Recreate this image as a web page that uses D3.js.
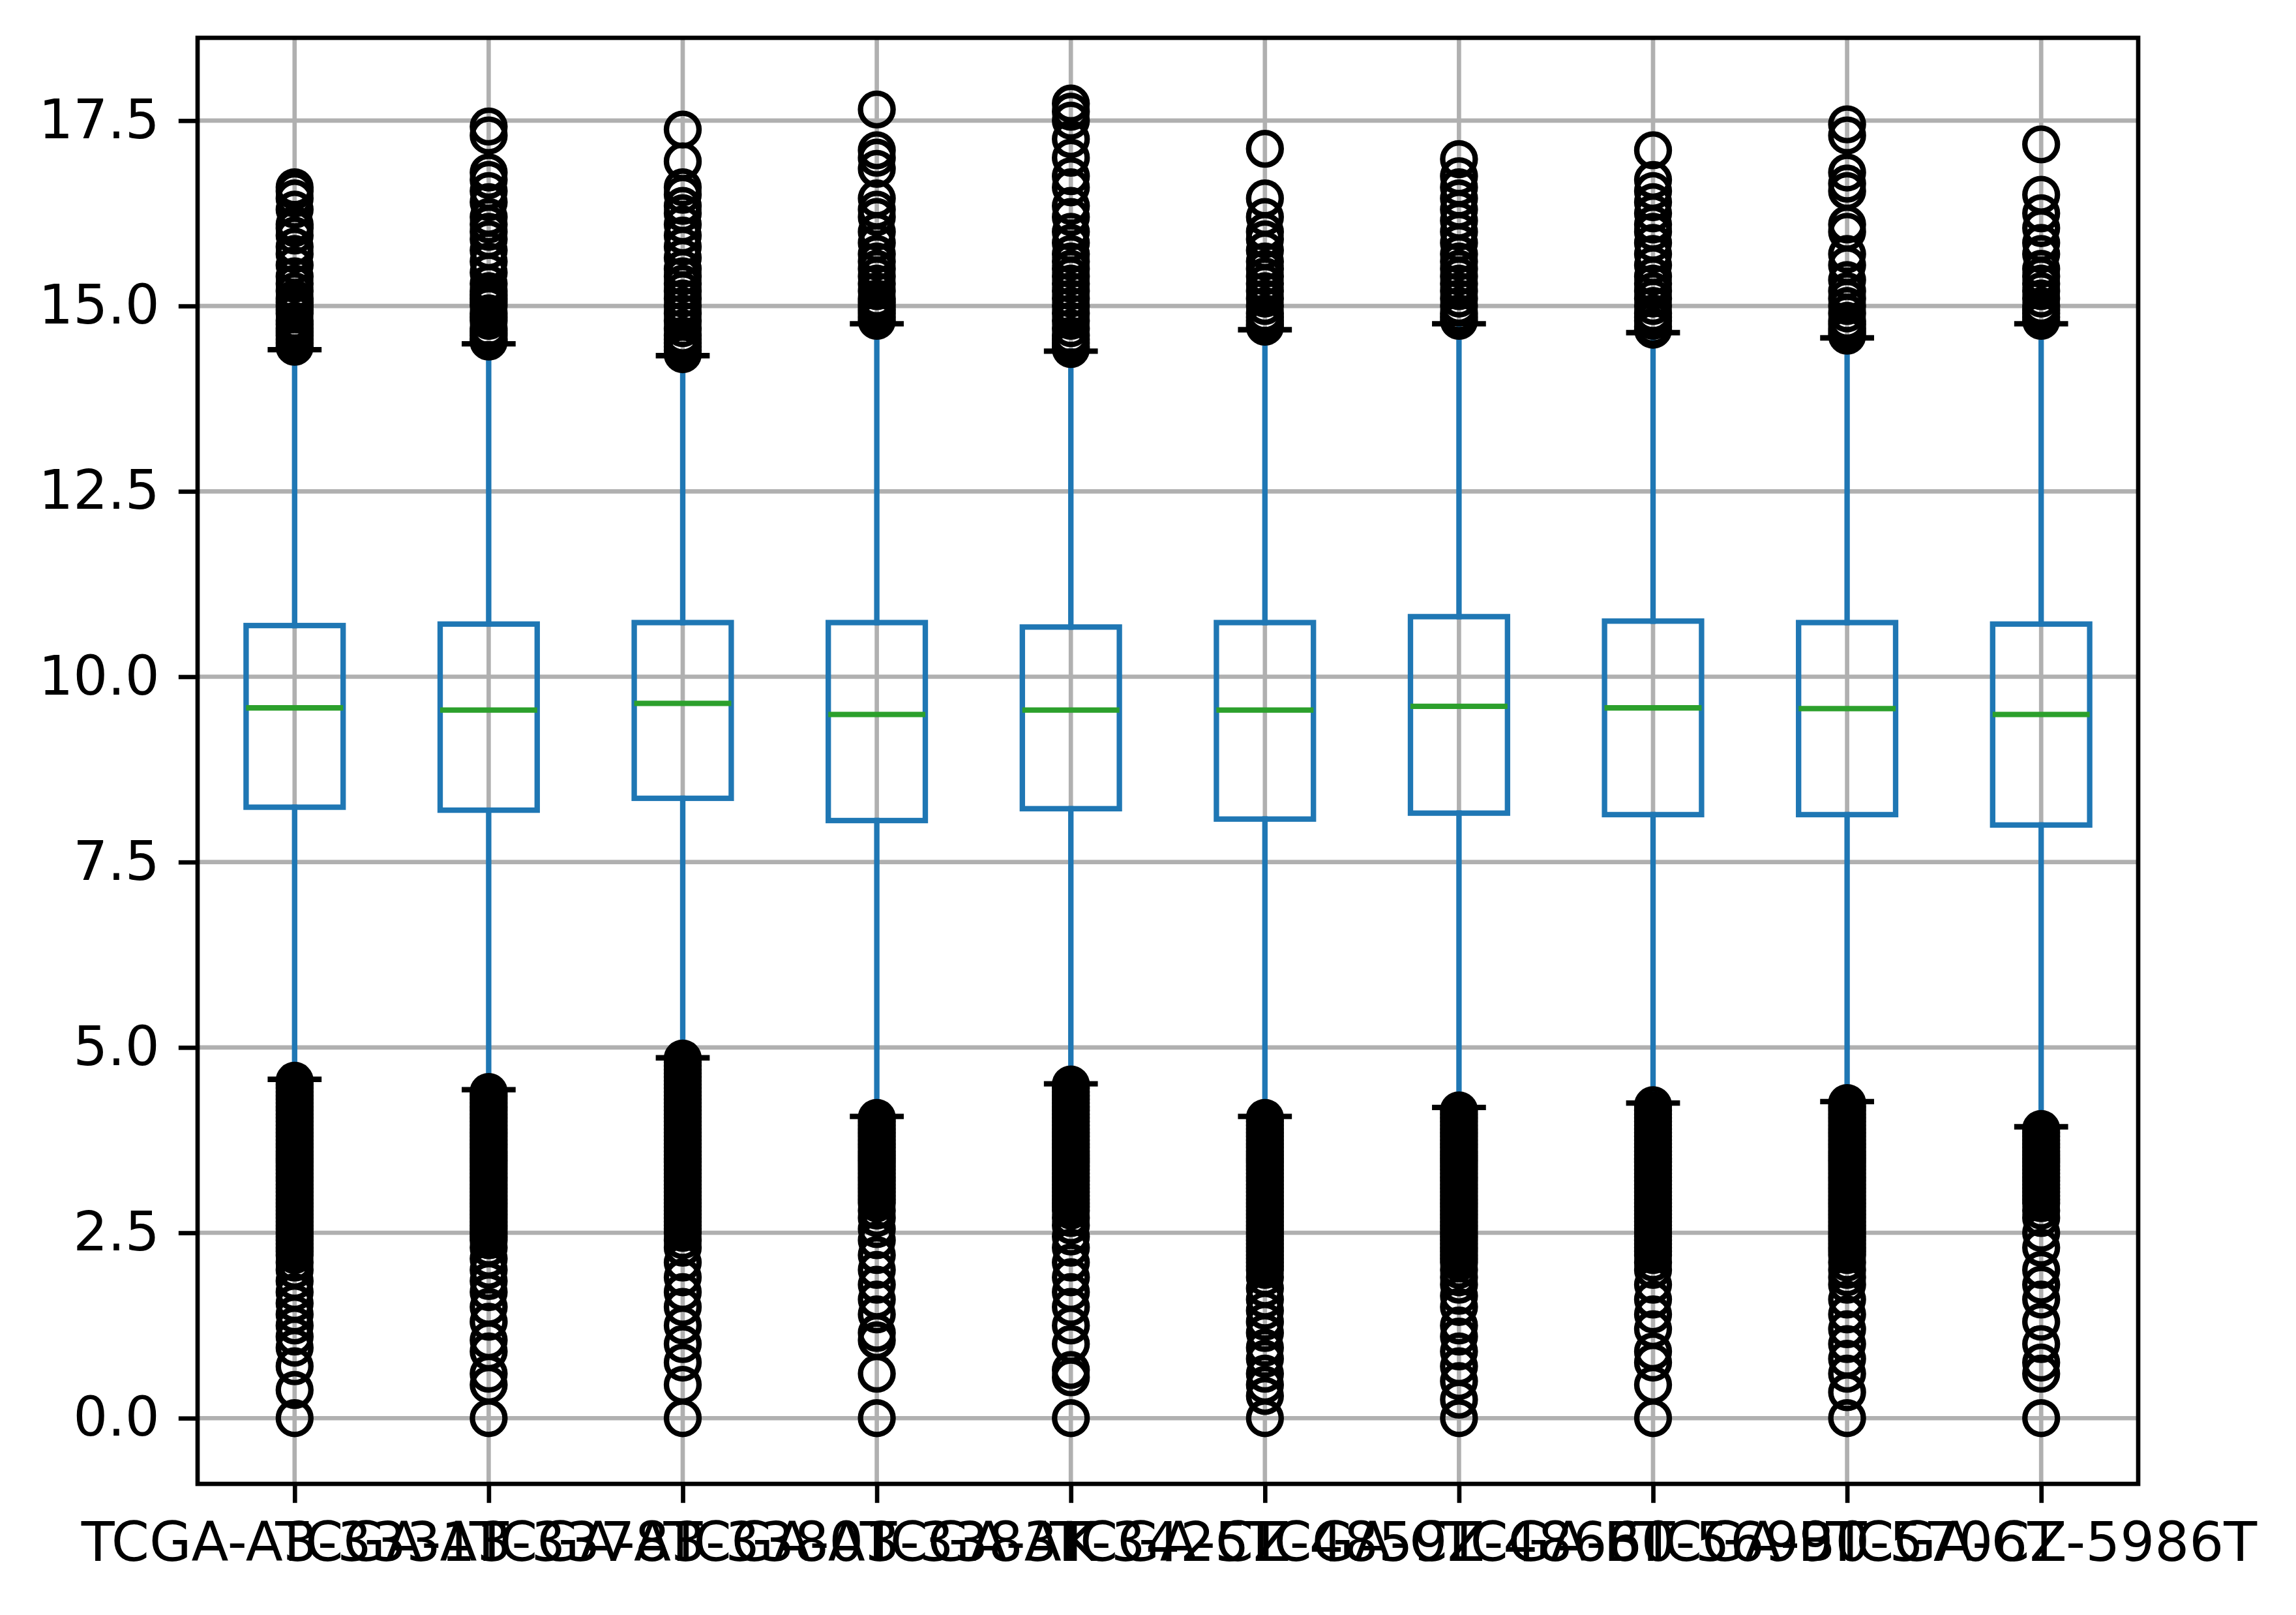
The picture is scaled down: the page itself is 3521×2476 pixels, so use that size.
<!DOCTYPE html>
<html>
<head>
<meta charset="utf-8">
<script src="https://cdn.jsdelivr.net/npm/d3@7"></script>
<style>
  html, body { margin: 0; padding: 0; background: #ffffff; }
  svg { display: block; }
</style>
</head>
<body>
<script>
// ---------- DATA ----------
const samples = ["TCGA-A3-3331T", "TCGA-A3-3378T", "TCGA-A3-3380T", "TCGA-A3-3383T", "TCGA-AK-3425T",
                 "TCGA-CZ-4859T", "TCGA-CZ-4866T", "TCGA-B0-5699T", "TCGA-B0-5706T", "TCGA-CZ-5986T"];
const q1 =          [8.24, 8.20, 8.36, 8.06, 8.22, 8.08, 8.16, 8.14, 8.14, 8.00];
const medians =     [9.58, 9.55, 9.64, 9.49, 9.55, 9.55, 9.60, 9.58, 9.57, 9.49];
const q3 =          [10.69, 10.71, 10.73, 10.73, 10.67, 10.73, 10.81, 10.75, 10.73, 10.71];
const whiskerLow =  [4.57, 4.43, 4.86, 4.07, 4.51, 4.07, 4.19, 4.25, 4.27, 3.93];
const whiskerHigh = [14.41, 14.49, 14.33, 14.76, 14.39, 14.68, 14.76, 14.64, 14.57, 14.76];

const fliersHigh = [
  [14.45,14.5,14.55,14.6,14.65,14.7,14.75,14.8,14.9,14.95,15.0,15.05,15.1,15.2,15.3,15.4,15.55,15.7,15.8,15.95,16.05,16.1,16.3,16.45,16.55,16.6],
  [14.52,14.55,14.6,14.65,14.7,14.8,14.85,14.9,15.0,15.05,15.1,15.15,15.2,15.3,15.45,15.6,15.75,15.9,16.0,16.1,16.2,16.4,16.55,16.7,16.8,17.3,17.42],
  [14.35,14.4,14.45,14.5,14.55,14.6,14.7,14.8,14.9,15.0,15.1,15.2,15.3,15.4,15.5,15.65,15.8,15.95,16.1,16.25,16.35,16.5,16.6,16.95,17.38],
  [14.8,14.85,14.9,14.95,15.0,15.05,15.1,15.2,15.3,15.4,15.5,15.6,15.7,15.85,16.0,16.2,16.3,16.45,16.85,17.0,17.1,17.65],
  [14.42,14.45,14.5,14.55,14.6,14.7,14.8,14.9,15.0,15.1,15.2,15.3,15.4,15.5,15.6,15.7,15.85,16.0,16.2,16.35,16.6,16.75,17.0,17.25,17.5,17.62,17.73],
  [14.72,14.75,14.8,14.85,14.9,15.0,15.1,15.2,15.3,15.4,15.5,15.6,15.75,15.9,16.0,16.2,16.45,17.12],
  [14.8,14.85,14.9,15.0,15.1,15.2,15.3,15.4,15.5,15.6,15.7,15.85,16.0,16.15,16.3,16.45,16.6,16.75,16.98],
  [14.68,14.72,14.8,14.85,14.9,15.0,15.1,15.2,15.3,15.4,15.55,15.7,15.85,16.0,16.1,16.25,16.4,16.55,16.7,17.1],
  [14.6,14.65,14.7,14.75,14.8,14.9,15.0,15.1,15.2,15.35,15.55,15.7,16.0,16.1,16.55,16.65,16.8,17.3,17.45],
  [14.8,14.85,14.9,14.95,15.0,15.1,15.2,15.3,15.4,15.5,15.7,15.85,16.05,16.25,16.5,17.18]
];
const fliersLow = [
  [4.55,4.5,4.45,4.4,4.35,4.3,4.25,4.2,4.15,4.1,4.05,4.0,3.95,3.9,3.85,3.8,3.75,3.7,3.65,3.6,3.55,3.5,3.45,3.4,3.35,3.3,3.25,3.2,3.15,3.1,3.05,3.0,2.95,2.9,2.85,2.8,2.75,2.7,2.65,2.6,2.55,2.5,2.45,2.4,2.35,2.3,2.25,2.2,2.1,2.0,1.85,1.7,1.55,1.4,1.25,1.1,0.95,0.7,0.38,0],
  [4.4,4.35,4.3,4.25,4.2,4.15,4.1,4.05,4.0,3.95,3.9,3.85,3.8,3.75,3.7,3.65,3.6,3.55,3.5,3.45,3.4,3.35,3.3,3.25,3.2,3.15,3.1,3.05,3.0,2.95,2.9,2.85,2.8,2.75,2.7,2.65,2.6,2.55,2.5,2.45,2.4,2.3,2.15,2.0,1.85,1.7,1.5,1.3,1.05,0.9,0.6,0.45,0],
  [4.85,4.8,4.75,4.7,4.65,4.6,4.55,4.5,4.45,4.4,4.35,4.3,4.25,4.2,4.15,4.1,4.05,4.0,3.95,3.9,3.85,3.8,3.75,3.7,3.65,3.6,3.55,3.5,3.45,3.4,3.35,3.3,3.25,3.2,3.15,3.1,3.05,3.0,2.95,2.9,2.85,2.8,2.75,2.7,2.65,2.6,2.55,2.5,2.4,2.3,2.1,1.9,1.7,1.5,1.25,1.0,0.75,0.45,0],
  [4.05,4.0,3.95,3.9,3.85,3.8,3.75,3.7,3.65,3.6,3.55,3.5,3.45,3.4,3.35,3.3,3.25,3.2,3.15,3.1,3.05,3.0,2.95,2.9,2.8,2.7,2.55,2.4,2.2,2.0,1.8,1.6,1.4,1.15,1.05,0.6,0],
  [4.5,4.45,4.4,4.35,4.3,4.25,4.2,4.15,4.1,4.05,4.0,3.95,3.9,3.85,3.8,3.75,3.7,3.65,3.6,3.55,3.5,3.45,3.4,3.35,3.3,3.25,3.2,3.15,3.1,3.05,3.0,2.95,2.9,2.85,2.8,2.7,2.6,2.45,2.3,2.1,1.9,1.7,1.5,1.25,1.0,0.65,0.55,0],
  [4.05,4.0,3.95,3.9,3.85,3.8,3.75,3.7,3.65,3.6,3.55,3.5,3.45,3.4,3.35,3.3,3.25,3.2,3.15,3.1,3.05,3.0,2.95,2.9,2.85,2.8,2.75,2.7,2.65,2.6,2.55,2.5,2.45,2.4,2.35,2.3,2.25,2.2,2.15,2.1,2.05,2.0,1.9,1.75,1.6,1.45,1.3,1.15,0.95,0.8,0.6,0.45,0.3,0],
  [4.15,4.1,4.05,4.0,3.95,3.9,3.85,3.8,3.75,3.7,3.65,3.6,3.55,3.5,3.45,3.4,3.35,3.3,3.25,3.2,3.15,3.1,3.05,3.0,2.95,2.9,2.85,2.8,2.75,2.7,2.65,2.6,2.55,2.5,2.45,2.4,2.35,2.3,2.25,2.2,2.15,2.1,2.0,1.9,1.8,1.65,1.5,1.25,1.1,0.9,0.7,0.5,0.25,0],
  [4.22,4.15,4.1,4.05,4.0,3.95,3.9,3.85,3.8,3.75,3.7,3.65,3.6,3.55,3.5,3.45,3.4,3.35,3.3,3.25,3.2,3.15,3.1,3.05,3.0,2.95,2.9,2.85,2.8,2.75,2.7,2.65,2.6,2.55,2.5,2.45,2.4,2.35,2.3,2.25,2.2,2.1,2.0,1.8,1.6,1.4,1.2,0.9,0.75,0.45,0],
  [4.25,4.2,4.15,4.1,4.05,4.0,3.95,3.9,3.85,3.8,3.75,3.7,3.65,3.6,3.55,3.5,3.45,3.4,3.35,3.3,3.25,3.2,3.15,3.1,3.05,3.0,2.95,2.9,2.85,2.8,2.75,2.7,2.65,2.6,2.55,2.5,2.45,2.4,2.35,2.3,2.25,2.2,2.1,2.0,1.9,1.8,1.6,1.4,1.2,1.0,0.8,0.6,0.35,0],
  [3.9,3.85,3.8,3.75,3.7,3.65,3.6,3.55,3.5,3.45,3.4,3.35,3.3,3.25,3.2,3.15,3.1,3.05,3.0,2.95,2.9,2.8,2.7,2.5,2.3,2.0,1.8,1.6,1.3,1.0,0.75,0.6,0]
];

const yTickValues = [0, 2.5, 5, 7.5, 10, 12.5, 15, 17.5];
const yTickLabels = ["0.0", "2.5", "5.0", "7.5", "10.0", "12.5", "15.0", "17.5"];

// ---------- LAYOUT / STYLE ----------
const W = 3521, H = 2476;
const margin = { left: 303, right: 3279, top: 58, bottom: 2275 };
const PT = 600 / 72;                // px per point (600 dpi)
const fontSize = 10 * PT;           // 83.3 px
const boxColor = "#1f77b4", medColor = "#2ca02c", gridColor = "#b0b0b0";

const svg = d3.select("body").append("svg")
  .attr("width", W).attr("height", H)
  .attr("xmlns", "http://www.w3.org/2000/svg");
svg.append("rect").attr("width", W).attr("height", H).attr("fill", "#ffffff");

// y domain with matplotlib-style 5% margins
const allVals = [].concat(...fliersHigh, ...fliersLow, whiskerHigh, whiskerLow);
const dMin = d3.min(allVals), dMax = d3.max(allVals);
const pad = (dMax - dMin) * 0.05;
const y = d3.scaleLinear().domain([dMin - pad, dMax + pad]).range([margin.bottom, margin.top]);
const x = d3.scalePoint().domain(samples).range([margin.left, margin.right]).padding(0.5);
const step = x.step();
const boxHalf = step * 0.25;
const capHalf = step * 0.125;

// ---------- GRID ----------
const grid = svg.append("g");
grid.selectAll("line.gx").data(samples).join("line")
  .attr("x1", d => x(d)).attr("x2", d => x(d))
  .attr("y1", margin.top).attr("y2", margin.bottom)
  .attr("stroke", gridColor).attr("stroke-width", 0.8 * PT);
grid.selectAll("line.gy").data(yTickValues).join("line")
  .attr("x1", margin.left).attr("x2", margin.right)
  .attr("y1", d => y(d)).attr("y2", d => y(d))
  .attr("stroke", gridColor).attr("stroke-width", 0.8 * PT);

// ---------- BOXES ----------
const lw = 1.0 * PT;
const plot = svg.append("g");
samples.forEach((s, i) => {
  const cx = x(s);
  const g = plot.append("g");
  // whiskers
  g.append("line").attr("x1", cx).attr("x2", cx).attr("y1", y(q1[i])).attr("y2", y(whiskerLow[i]))
    .attr("stroke", boxColor).attr("stroke-width", lw).attr("stroke-linecap", "square");
  g.append("line").attr("x1", cx).attr("x2", cx).attr("y1", y(q3[i])).attr("y2", y(whiskerHigh[i]))
    .attr("stroke", boxColor).attr("stroke-width", lw).attr("stroke-linecap", "square");
  // caps
  [whiskerLow[i], whiskerHigh[i]].forEach(v => {
    g.append("line").attr("x1", cx - capHalf).attr("x2", cx + capHalf).attr("y1", y(v)).attr("y2", y(v))
      .attr("stroke", "#000000").attr("stroke-width", lw).attr("stroke-linecap", "square");
  });
  // box
  g.append("rect").attr("x", cx - boxHalf).attr("width", 2 * boxHalf)
    .attr("y", y(q3[i])).attr("height", y(q1[i]) - y(q3[i]))
    .attr("fill", "none").attr("stroke", boxColor).attr("stroke-width", lw);
  // median
  g.append("line").attr("x1", cx - boxHalf).attr("x2", cx + boxHalf).attr("y1", y(medians[i])).attr("y2", y(medians[i]))
    .attr("stroke", medColor).attr("stroke-width", lw);
  // fliers
  g.selectAll("circle").data(fliersLow[i].concat(fliersHigh[i])).join("circle")
    .attr("cx", cx).attr("cy", d => y(d)).attr("r", 3 * PT)
    .attr("fill", "none").attr("stroke", "#000000").attr("stroke-width", lw);
});

// ---------- AXES ----------
const tickLen = 3.5 * PT, tickPad = 3.5 * PT;
const xAxis = svg.append("g").attr("transform", `translate(0,${margin.bottom})`)
  .call(d3.axisBottom(x).tickSize(tickLen).tickPadding(tickPad));
const yAxis = svg.append("g").attr("transform", `translate(${margin.left},0)`)
  .call(d3.axisLeft(y).tickValues(yTickValues).tickFormat((d, i) => yTickLabels[i]).tickSize(tickLen).tickPadding(tickPad));
[xAxis, yAxis].forEach(a => {
  a.select(".domain").remove();
  a.selectAll(".tick line").attr("stroke", "#000000").attr("stroke-width", 0.8 * PT);
  a.selectAll(".tick text").attr("fill", "#000000")
    .style("font-family", "'DejaVu Sans', sans-serif").style("font-size", fontSize + "px");
});

// frame (spines)
svg.append("rect")
  .attr("x", margin.left).attr("y", margin.top)
  .attr("width", margin.right - margin.left).attr("height", margin.bottom - margin.top)
  .attr("fill", "none").attr("stroke", "#000000").attr("stroke-width", 0.8 * PT)
  .attr("stroke-linejoin", "miter");
</script>
</body>
</html>
